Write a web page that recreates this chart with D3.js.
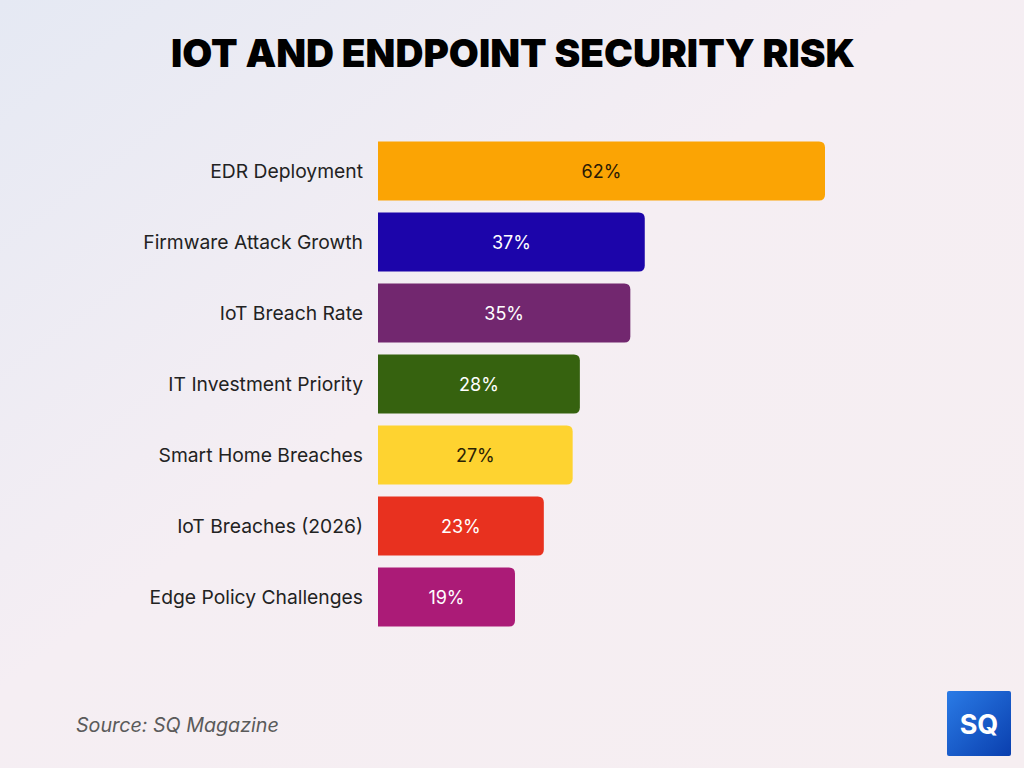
<!DOCTYPE html>
<html>
<head>
<meta charset="utf-8">
<script src="https://cdn.jsdelivr.net/npm/d3@7"></script>
<style>
  body { margin: 0; padding: 0; overflow: hidden; }
  svg { display: block; }
</style>
</head>
<body>
<div id="chart"></div>
<script>

// chart data
var categories = ["EDR Deployment", "Firmware Attack Growth", "IoT Breach Rate",
                  "IT Investment Priority", "Smart Home Breaches", "IoT Breaches (2026)",
                  "Edge Policy Challenges"]
var values = [62, 37, 35, 28, 27, 23, 19]
var barColors = ["#fba404", "#1c05aa", "#72276f", "#36620f", "#fed330", "#e8311f", "#ab1b77"]
var labelColors = ["#2a1a05", "#ffffff", "#ffffff", "#ffffff", "#2a2205", "#ffffff", "#ffffff"]

var width = 1024,
    height = 768

var svg = d3.select("#chart").append("svg")
    .attr("width", width)
    .attr("height", height)

// background gradient
var defs = svg.append("defs")
var bg = defs.append("linearGradient")
    .attr("id", "bg")
    .attr("x1", "0%").attr("y1", "0%")
    .attr("x2", "100%").attr("y2", "100%")
bg.append("stop").attr("offset", "0%").attr("stop-color", "#e5e9f3")
bg.append("stop").attr("offset", "45%").attr("stop-color", "#f5eef3")
bg.append("stop").attr("offset", "100%").attr("stop-color", "#f6eef1")

svg.append("rect")
    .attr("width", width)
    .attr("height", height)
    .attr("fill", "url(#bg)")

// title
svg.append("text")
    .attr("x", 513)
    .attr("y", 67)
    .attr("text-anchor", "middle")
    .style("font-family", "Inter, 'DejaVu Sans', sans-serif")
    .style("font-weight", 900)
    .style("font-size", "39px")
    .attr("textLength", 684)
    .attr("lengthAdjust", "spacingAndGlyphs")
    .attr("fill", "#000")
    .text("IOT AND ENDPOINT SECURITY RISK")

// scales
var x = d3.scaleLinear()
    .domain([0, 62])
    .range([378, 825])

var y = d3.scaleBand()
    .domain(categories)
    .range([135, 632])
    .paddingInner(0.18)
    .paddingOuter(0.09)

var data = categories.map(function(c, i) {
    return {name: c, value: values[i], color: barColors[i], label: labelColors[i]}
})

// bar with only right corners rounded
function barPath(x0, y0, w, h, r) {
    return "M" + x0 + "," + y0 +
        "H" + (x0 + w - r) +
        "Q" + (x0 + w) + "," + y0 + " " + (x0 + w) + "," + (y0 + r) +
        "V" + (y0 + h - r) +
        "Q" + (x0 + w) + "," + (y0 + h) + " " + (x0 + w - r) + "," + (y0 + h) +
        "H" + x0 + "Z"
}

svg.selectAll(".bar")
    .data(data)
    .enter().append("path")
    .attr("class", "bar")
    .attr("d", function(d) {
        return barPath(x(0), y(d.name), x(d.value) - x(0), y.bandwidth() + 1, 6)
    })
    .attr("fill", function(d) { return d.color })

// value labels
svg.selectAll(".val")
    .data(data)
    .enter().append("text")
    .attr("class", "val")
    .attr("x", function(d) { return (x(0) + x(d.value)) / 2 })
    .attr("y", function(d) { return y(d.name) + y.bandwidth() / 2 + 1 })
    .attr("dy", "0.35em")
    .attr("text-anchor", "middle")
    .style("font-family", "Inter, 'DejaVu Sans', sans-serif")
    .style("font-size", "18px")
    .attr("fill", function(d) { return d.label })
    .text(function(d) { return d.value + "%" })

// category axis, without line or ticks
var yAxis = svg.append("g")
    .attr("transform", "translate(" + (x(0) - 6) + ",1)")
    .call(d3.axisLeft(y).tickSize(0).tickPadding(9))

yAxis.select(".domain").remove()
yAxis.selectAll("text")
    .style("font-family", "Inter, 'DejaVu Sans', sans-serif")
    .style("font-size", "19.3px")
    .attr("fill", "#222")

// source note
svg.append("text")
    .attr("x", 76)
    .attr("y", 732)
    .style("font-family", "Inter, 'DejaVu Sans', sans-serif")
    .style("font-style", "italic")
    .style("font-size", "19.7px")
    .attr("fill", "#5a5a5a")
    .text("Source: SQ Magazine")

// logo
var logoGrad = defs.append("linearGradient")
    .attr("id", "logo")
    .attr("x1", "0%").attr("y1", "0%")
    .attr("x2", "100%").attr("y2", "100%")
logoGrad.append("stop").attr("offset", "0%").attr("stop-color", "#2a7be6")
logoGrad.append("stop").attr("offset", "100%").attr("stop-color", "#0a3fae")

svg.append("rect")
    .attr("x", 947)
    .attr("y", 691)
    .attr("width", 64)
    .attr("height", 65)
    .attr("rx", 2)
    .attr("fill", "url(#logo)")

svg.append("text")
    .attr("x", 979)
    .attr("y", 734)
    .attr("text-anchor", "middle")
    .style("font-family", "Inter, 'DejaVu Sans', sans-serif")
    .style("font-weight", 700)
    .style("font-size", "27px")
    .attr("fill", "#fff")
    .text("SQ")

</script>
</body>
</html>
